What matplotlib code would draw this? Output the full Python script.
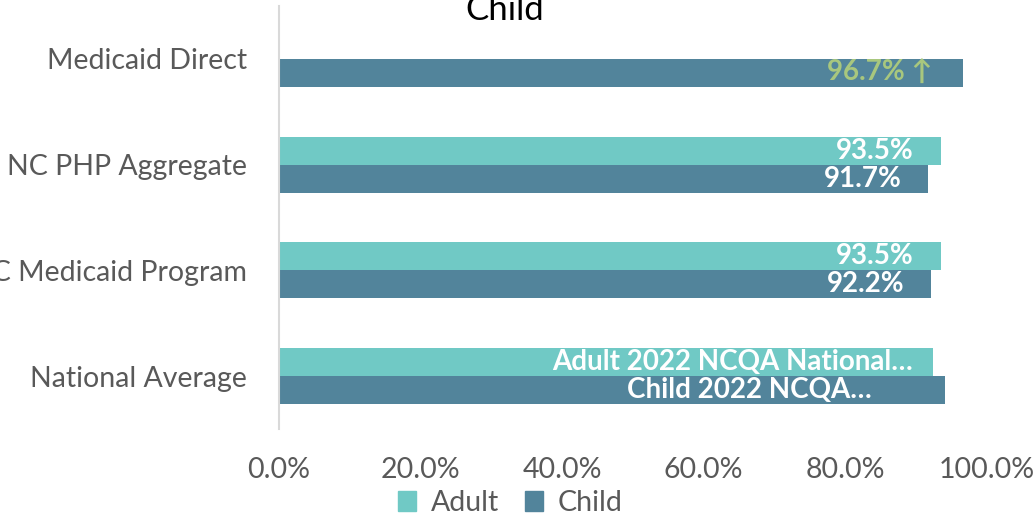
import numpy as np
import matplotlib
import matplotlib.pyplot as plt
from matplotlib.patches import Patch

matplotlib.use('agg')

plt.rcParams['font.family'] = ['Lato', 'DejaVu Sans']

# data
categories = ["Medicaid Direct", "NC PHP Aggregate", "NC Medicaid Program", "National Average"]
adult = [np.nan, 93.5, 93.5, 92.5]
child = [96.7, 91.7, 92.2, 94.2]
adult_labels = ["", "93.5%", "93.5%", "Adult 2022 NCQA National…"]
child_labels = ["96.7% ↑", "91.7%", "92.2%", "Child 2022 NCQA…"]
ticks = [0, 20, 40, 60, 80, 100]

ADULT_COLOR = "#70C9C5"
CHILD_COLOR = "#52849B"
LABEL_GREEN = "#A8C77E"
GREY_TEXT = "#595959"

W, H = 1036, 516
fig = plt.figure(figsize=(W / 100, H / 100), dpi=100)
ax = fig.add_axes([279 / W, 1 - 429 / H, (986.5 - 279) / W, (429 - 6) / H])

y = np.arange(len(categories))
bh = 0.265
ax.barh(y - bh / 2, adult, height=bh, color=ADULT_COLOR, label="Adult")
ax.barh(y + bh / 2, child, height=bh, color=CHILD_COLOR, label="Child")

ax.set_xlim(0, 100)
ax.set_ylim(len(categories) - 0.5, -0.5)
ax.set_yticks(y)
ax.set_yticklabels(categories)
ax.set_xticks(ticks)
ax.set_xticklabels([f"{t:.1f}%" for t in ticks])
ax.tick_params(axis='both', length=0, colors=GREY_TEXT, labelsize=20.5)
ax.tick_params(axis='y', pad=23)
ax.tick_params(axis='x', pad=20)

for s in ["top", "right", "bottom"]:
    ax.spines[s].set_visible(False)
ax.spines["left"].set_color("#D9D9D9")
ax.spines["left"].set_linewidth(1.5)

# value labels, inside end of each bar
adult_offsets = [0, -19, -19, -15]
child_offsets = [-22, -19, -19, -53]
for i in range(len(categories)):
    if adult_labels[i]:
        ax.annotate(adult_labels[i], (adult[i], y[i] - bh / 2), xytext=(adult_offsets[i], 0),
                    textcoords="offset points", ha="right", va="center",
                    color="white", fontsize=20, fontweight="bold")
    if child_labels[i]:
        col = LABEL_GREEN if "↑" in child_labels[i] else "white"
        ax.annotate(child_labels[i], (child[i], y[i] + bh / 2), xytext=(child_offsets[i], 0),
                    textcoords="offset points", ha="right", va="center",
                    color=col, fontsize=20, fontweight="bold")

fig.text(505 / W, 1 - 20 / H, "Child", ha="center", va="baseline", fontsize=25, color="black")

handles = [Patch(color=ADULT_COLOR, label="Adult"), Patch(color=CHILD_COLOR, label="Child")]
fig.legend(handles=handles, loc="center", bbox_to_anchor=(510 / W, 1 - 503 / H), ncol=2,
           frameon=False, fontsize=20.5, labelcolor=GREY_TEXT, handlelength=0.65, handleheight=0.65,
           handletextpad=0.5, columnspacing=0.9, borderaxespad=0, borderpad=0)

fig.savefig("out.png", dpi=100)
